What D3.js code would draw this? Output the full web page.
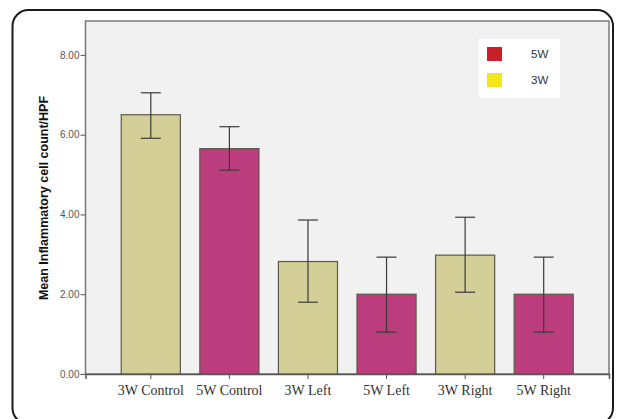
<!DOCTYPE html>
<html>
<head>
<meta charset="utf-8">
<script src="https://cdn.jsdelivr.net/npm/d3@7"></script>
<style>
  html, body { margin: 0; padding: 0; background: #fff; }
  svg { display: block; }
</style>
</head>
<body>
<script>
const categories = ["3W Control", "5W Control", "3W Left", "5W Left", "3W Right", "5W Right"];
const groups = ["3W", "5W", "3W", "5W", "3W", "5W"];
const means = [6.50, 5.65, 2.82, 2.00, 2.98, 2.00];
const errLow = [5.91, 5.11, 1.80, 1.05, 2.05, 1.05];
const errHigh = [7.05, 6.20, 3.86, 2.93, 3.93, 2.93];
const yTicks = [0, 2, 4, 6, 8];
const legendLabels = ["5W", "3W"];

const W = 617, H = 419;
const plot = { left: 85.5, right: 609, top: 21, bottom: 374 };

const svg = d3.select("body").append("svg").attr("width", W).attr("height", H);

// outer rounded frame
svg.append("rect")
  .attr("x", 12.5).attr("y", 10).attr("width", 600.5).attr("height", 414)
  .attr("rx", 16).attr("fill", "#fff").attr("stroke", "#1a1a1a").attr("stroke-width", 2);

const y = d3.scaleLinear().domain([0, 8.85]).range([plot.bottom, plot.top]);
const x = d3.scaleBand().domain(categories).range([plot.left, plot.right])
  .paddingInner(0.248).paddingOuter(0.455);

// plot background
svg.append("rect")
  .attr("x", plot.left).attr("y", plot.top)
  .attr("width", plot.right - plot.left).attr("height", plot.bottom - plot.top)
  .attr("fill", "#f1f1f1").attr("stroke", "#7a7a7a").attr("stroke-width", 1.5);

const fillFor = { "3W": "#d3cf96", "5W": "#bc3d7d" };

// bars
svg.selectAll("rect.bar").data(categories).join("rect")
  .attr("class", "bar")
  .attr("x", d => x(d))
  .attr("y", (d, i) => y(means[i]))
  .attr("width", x.bandwidth())
  .attr("height", (d, i) => y(0) - y(means[i]))
  .attr("fill", (d, i) => fillFor[groups[i]])
  .attr("stroke", "#5a5a4a").attr("stroke-width", 1.2);

// error bars
const eb = svg.append("g").attr("stroke", "#3a3a3a").attr("stroke-width", 1.2).attr("fill", "none");
categories.forEach((c, i) => {
  const cx = x(c) + x.bandwidth() / 2;
  eb.append("line").attr("x1", cx).attr("x2", cx).attr("y1", y(errLow[i])).attr("y2", y(errHigh[i]));
  eb.append("line").attr("x1", cx - 10).attr("x2", cx + 10).attr("y1", y(errHigh[i])).attr("y2", y(errHigh[i]));
  eb.append("line").attr("x1", cx - 10).attr("x2", cx + 10).attr("y1", y(errLow[i])).attr("y2", y(errLow[i]));
});

// y axis
const yAxis = d3.axisLeft(y).tickValues(yTicks).tickFormat(d3.format(".2f")).tickSize(5).tickPadding(1);
const gy = svg.append("g").attr("transform", `translate(${plot.left},0)`).call(yAxis);
gy.select(".domain").remove();
gy.selectAll(".tick line").attr("stroke", "#555");
gy.selectAll(".tick text").attr("fill", "#555").attr("font-family", "Liberation Sans, Arial, sans-serif").attr("font-size", 10);

// x axis
const xAxis = d3.axisBottom(x).tickSize(5).tickPadding(6);
const gx = svg.append("g").attr("transform", `translate(0,${plot.bottom})`).call(xAxis);
gx.select(".domain").attr("stroke", "#555").attr("stroke-width", 1.5);
gx.selectAll(".tick line").attr("stroke", "#555");
gx.selectAll(".tick text").attr("fill", "#333").attr("font-family", "Liberation Serif, Times New Roman, serif").attr("font-size", 14);

// y title
svg.append("text")
  .attr("transform", `translate(48,198) rotate(-90)`)
  .attr("text-anchor", "middle")
  .attr("font-family", "Liberation Sans, Arial, sans-serif")
  .attr("font-weight", "bold").attr("font-size", 12.5).attr("fill", "#111")
  .text("Mean Inflammatory cell count/HPF");

// legend
const lg = svg.append("g");
lg.append("rect").attr("x", 479).attr("y", 39).attr("width", 81).attr("height", 59).attr("fill", "#fff");
const legendColors = ["#c8202a", "#f2e61a"];
legendLabels.forEach((l, i) => {
  const yy = 47 + i * 26;
  lg.append("rect").attr("x", 487).attr("y", yy).attr("width", 15).attr("height", 14).attr("fill", legendColors[i]);
  lg.append("text").attr("x", 531).attr("y", yy + 11).attr("font-family", "Liberation Sans, Arial, sans-serif")
    .attr("font-size", 11.5).attr("fill", "#333").text(l);
});
</script>
</body>
</html>
